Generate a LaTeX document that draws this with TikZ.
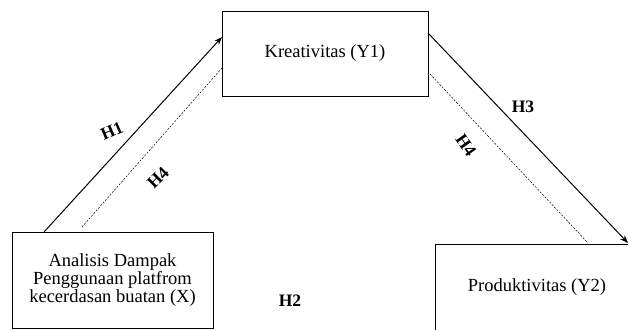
\documentclass[tikz,border=0pt]{standalone}
\usepackage{fontspec}
\setmainfont{Liberation Serif}
\usetikzlibrary{arrows.meta,calc}
\begin{document}
\begin{tikzpicture}[x=1pt,y=-1pt,
  box/.style={draw,line width=0.9pt,inner sep=0pt,align=center,font=\fontsize{18.5}{18}\selectfont},
  solidarrow/.style={line width=1pt,-{Stealth[length=8pt,width=6pt]}},
  dashline/.style={line width=0.5pt,dash pattern=on 2pt off 1.5pt},
  hlab/.style={inner sep=0pt,font=\bfseries\fontsize{17.5}{18}\selectfont}]
\useasboundingbox (0,0) rectangle (628,329);
\begin{scope}
\clip (0,0) rectangle (628,329);
\node[box,minimum width=206pt,minimum height=85pt] (Y1) at (325,53.5) {Kreativitas (Y1)};
\node[box,minimum width=201pt,minimum height=96pt] (X) at (112.5,280) {Analisis Dampak\\Penggunaan platfrom\\kecerdasan buatan (X)};
\node[box,minimum width=204pt,minimum height=86pt] (Y2) at (537,287) {Produktivitas (Y2)};
\end{scope}
\coordinate (a1) at (44,232);
\coordinate (a2) at (222,37);
\coordinate (b1) at (82,227);
\coordinate (b2) at (222,68);
\coordinate (c1) at (428,33);
\coordinate (c2) at (628,243);
\coordinate (d1) at (430,74);
\coordinate (d2) at (588,243);
\draw[solidarrow] (a1) -- (a2);
\draw[dashline] (b1) -- (b2);
\draw[solidarrow] (c1) -- (c2);
\draw[dashline] (d1) -- (d2);
\node[hlab,rotate=23] (h1) at (112,131) {H1};
\node[hlab,rotate=45] (h4a) at (158,178) {H4};
\node[hlab] (h3) at (523,107) {H3};
\node[hlab,rotate=-55] (h4b) at (466,145) {H4};
\node[hlab] (h2) at (290,301) {H2};
\end{tikzpicture}
\end{document}
